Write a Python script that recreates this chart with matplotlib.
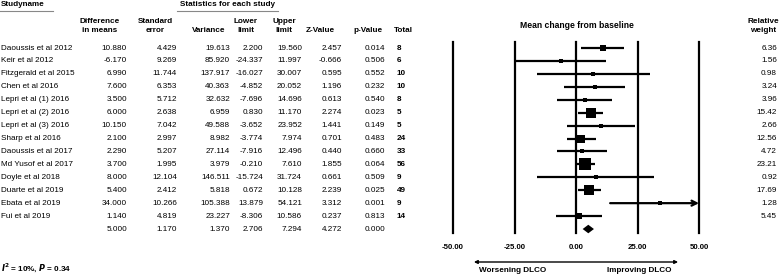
import matplotlib
matplotlib.use('Agg')
import matplotlib.pyplot as plt
import matplotlib.transforms as mtrans
import numpy as np

studies = ['Daoussis et al 2012', 'Keir et al 2012', 'Fitzgerald et al 2015', 'Chen et al 2016',
           'Lepri et al (1) 2016', 'Lepri et al (2) 2016', 'Lepri et al (3) 2016', 'Sharp et al 2016',
           'Daoussis et al 2017', 'Md Yusof et al 2017', 'Doyle et al 2018', 'Duarte et al 2019',
           'Ebata et al 2019', 'Fui et al 2019']
diff = [10.880, -6.170, 6.990, 7.600, 3.500, 6.000, 10.150, 2.100, 2.290, 3.700, 8.000, 5.400, 34.000, 1.140]
se = [4.429, 9.269, 11.744, 6.353, 5.712, 2.638, 7.042, 2.997, 5.207, 1.995, 12.104, 2.412, 10.266, 4.819]
var = [19.613, 85.920, 137.917, 40.363, 32.632, 6.959, 49.588, 8.982, 27.114, 3.979, 146.511, 5.818, 105.388, 23.227]
lower = [2.200, -24.337, -16.027, -4.852, -7.696, 0.830, -3.652, -3.774, -7.916, -0.210, -15.724, 0.672, 13.879, -8.306]
upper = [19.560, 11.997, 30.007, 20.052, 14.696, 11.170, 23.952, 7.974, 12.496, 7.610, 31.724, 10.128, 54.121, 10.586]
zval = [2.457, -0.666, 0.595, 1.196, 0.613, 2.274, 1.441, 0.701, 0.440, 1.855, 0.661, 2.239, 3.312, 0.237]
pval = [0.014, 0.506, 0.552, 0.232, 0.540, 0.023, 0.149, 0.483, 0.660, 0.064, 0.509, 0.025, 0.001, 0.813]
total = [8, 6, 10, 10, 8, 5, 5, 24, 33, 56, 9, 49, 9, 14]
weight = [6.36, 1.56, 0.98, 3.24, 3.96, 15.42, 2.66, 12.56, 4.72, 23.21, 0.92, 17.69, 1.28, 5.45]
summary = [5.000, 1.170, 1.370, 2.706, 7.294, 4.272, 0.000]
ticks = [-50, -25, 0, 25, 50]

W, H = 784, 276
fig = plt.figure(figsize=(W / 100, H / 100), dpi=100)
fig.patch.set_facecolor('white')

fam = ['Liberation Sans', 'DejaVu Sans']
fs = 5.9

# forest axes: x spans px 453..699, rows mapped so row 0 sits at px 48
ax = fig.add_axes([453 / W, 0, (699 - 453) / W, 1])
ax.set_xlim(-50, 50)
step = 12.93
ax.set_ylim((H - 48) / step, -48 / step)
ax.axis('off')

tr = mtrans.blended_transform_factory(fig.transFigure, ax.transData)
def px(x):
    return x / W

def row_of(ypx):
    return (ypx - 48) / step

# vertical reference lines
for t in ticks:
    ax.plot([t, t], [-0.5, 14.3], color='black', lw=1.6, clip_on=False)
    ax.text(t, row_of(247), '%.2f' % t, ha='center', va='center', fontsize=5.6,
            fontweight='bold', family=fam)

# study CIs and squares
for i in range(len(studies)):
    if upper[i] > 50:
        ax.annotate('', xy=(50, i), xytext=(lower[i], i),
                    arrowprops=dict(arrowstyle='->', lw=1.6, color='black', mutation_scale=9,
                                    shrinkA=0, shrinkB=0))
    else:
        ax.plot([lower[i], upper[i]], [i, i], color='black', lw=1.6, solid_capstyle='butt')
    size_px = max(4.0, 2.3 * np.sqrt(weight[i]))
    ax.plot(diff[i], i, marker='s', color='black', markersize=size_px * 0.72, markeredgewidth=0)

# summary diamond
n = len(studies)
ax.fill([summary[3], summary[0], summary[4], summary[0]], [n, n - 0.33, n, n + 0.33],
        color='black', lw=0)

# direction arrow
ax.annotate('', xy=(41.5, row_of(262)), xytext=(-41.5, row_of(262)),
            arrowprops=dict(arrowstyle='<|-|>', lw=1.0, color='black', mutation_scale=5,
                            shrinkA=0, shrinkB=0))
ax.text(-39.5, row_of(270), 'Worsening DLCO', ha='left', va='center', fontsize=5.9,
        fontweight='bold', family=fam)
ax.text(39, row_of(270), 'Improving DLCO', ha='right', va='center', fontsize=5.9,
        fontweight='bold', family=fam)
ax.text(0.5, row_of(25), 'Mean change from baseline', ha='center', va='center', fontsize=6.2,
        fontweight='bold', family=fam)

# left table headers
fig.text(px(1), 1 - 5 / H, 'Studyname', ha='left', va='center', fontsize=fs, fontweight='bold', family=fam)
fig.add_artist(plt.Line2D([px(0), px(53)], [1 - 11 / H, 1 - 11 / H], color='#888888', lw=0.8))
fig.text(px(227), 1 - 5 / H, 'Statistics for each study', ha='center', va='center', fontsize=fs,
         fontweight='bold', family=fam)
fig.add_artist(plt.Line2D([px(177), px(278)], [1 - 11 / H, 1 - 11 / H], color='#888888', lw=0.8))

headers = [(100, 'Difference\nin means'), (155, 'Standard\nerror'), (209, '\nVariance'),
           (246, 'Lower\nlimit'), (284, 'Upper\nlimit'), (320, '\nZ-Value'), (368, '\np-Value'),
           (403, '\nTotal')]
for x, h in headers:
    fig.text(px(x), 1 - 26 / H, h, ha='center', va='center', fontsize=fs, fontweight='bold',
             family=fam, linespacing=1.3)
fig.text(px(763), 1 - 26 / H, 'Relative\nweight', ha='center', va='center', fontsize=fs,
         fontweight='bold', family=fam, linespacing=1.3)

# table body
cols = [(127, diff), (177, se), (230, var), (263, lower), (302, upper), (342, zval), (385, pval)]
for i in range(n):
    ax.text(px(1), i, studies[i], transform=tr, ha='left', va='center', fontsize=fs, family=fam)
    for x, vals in cols:
        ax.text(px(x), i, '%.3f' % vals[i], transform=tr, ha='right', va='center',
                fontsize=fs, family=fam)
    ax.text(px(397), i, str(total[i]), transform=tr, ha='left', va='center', fontsize=fs,
            fontweight='bold', family=fam)
    ax.text(px(777), i, '%.2f' % weight[i], transform=tr, ha='right', va='center', fontsize=fs,
            family=fam)

for (x, _), v in zip(cols, summary):
    ax.text(px(x), n, '%.3f' % v, transform=tr, ha='right', va='center', fontsize=fs, family=fam)

fig.text(px(1), 1 - 268 / H, r'$\mathbfit{I}^{\mathbf{2}}$ = 10%, $\mathbfit{P}$ = 0.34', ha='left',
         va='center', fontsize=fs, fontweight='bold', family=fam)

fig.savefig('out.png', dpi=100, facecolor='white')
